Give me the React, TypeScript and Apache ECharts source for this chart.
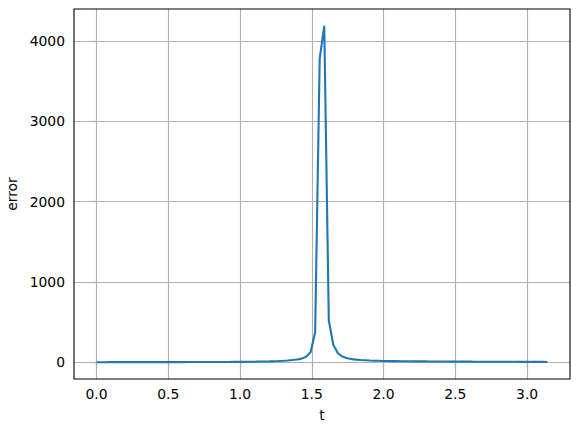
import React, { useEffect, useRef } from "react";
import * as echarts from "echarts";

// Sample grid: 100 evenly spaced points over [0, π]
const N = 100;
const tValues: number[] = Array.from({ length: N }, (_, i) => (i * Math.PI) / (N - 1));

// error values
const errorValues: number[] = [
  0.0, 0.3, 0.5, 0.6, 0.7, 0.8, 0.8, 0.9, 0.9, 1.0,
  1.0, 1.1, 1.1, 1.2, 1.3, 1.3, 1.4, 1.5, 1.6, 1.7,
  1.8, 1.9, 2.0, 2.2, 2.3, 2.5, 2.7, 3.0, 3.2, 3.5,
  3.9, 4.3, 4.8, 5.4, 6.1, 7.0, 8.1, 9.5, 11, 13,
  15, 18, 22, 27, 34, 45, 68, 125, 370, 3780,
  4190, 520, 215, 112, 70, 50, 39, 32, 27, 24,
  21, 19, 17.5, 16, 15, 14, 13.3, 12.6, 12, 11.4,
  10.9, 10.4, 10, 9.6, 9.2, 8.9, 8.6, 8.3, 8.0, 7.7,
  7.5, 7.2, 7.0, 6.7, 6.5, 6.3, 6.1, 5.9, 5.7, 5.5,
  5.3, 5.1, 4.9, 4.7, 4.5, 4.3, 4.1, 3.9, 3.7, 3.5,
];

const xTicks: number[] = [0, 0.5, 1.0, 1.5, 2.0, 2.5, 3.0];
const yTicks: number[] = [0, 1000, 2000, 3000, 4000];

const FONT = "DejaVu Sans";

export default function App() {
  const ref = useRef<HTMLDivElement>(null);
  useEffect(() => {
    if (!ref.current) return;
    const chart = echarts.init(ref.current, undefined, { renderer: "svg" });
    const data = tValues.map((t, i) => [t, errorValues[i]]);
    const gridLineStyle = { color: "#b0b0b0", width: 1.1, type: "solid" as const };
    chart.setOption({
      animation: false,
      backgroundColor: "#ffffff",
      grid: {
        left: 74,
        right: 10,
        top: 9,
        bottom: 53,
        outerBoundsMode: "none",
        containLabel: false,
        show: true,
        borderColor: "#000000",
        borderWidth: 1.1,
        backgroundColor: "transparent",
        z: 10,
      },
      xAxis: {
        type: "value",
        min: -0.157,
        max: 3.299,
        name: "t",
        nameLocation: "middle",
        nameGap: 29,
        nameTextStyle: { fontFamily: FONT, fontSize: 13.9, color: "#000" },
        axisLine: { show: false },
        axisTick: {
          show: true,
          length: 4.9,
          lineStyle: { color: "#000", width: 1.1 },
          customValues: xTicks,
        },
        axisLabel: {
          fontFamily: FONT,
          fontSize: 13.9,
          color: "#000",
          margin: 8,
          customValues: xTicks,
          formatter: (v: number) => v.toFixed(1),
        },
        splitLine: { show: false },
      },
      yAxis: {
        type: "value",
        min: -209,
        max: 4399,
        name: "error",
        nameLocation: "middle",
        nameGap: 47,
        nameTextStyle: { fontFamily: FONT, fontSize: 13.9, color: "#000" },
        axisLine: { show: false },
        axisTick: {
          show: true,
          length: 4.9,
          lineStyle: { color: "#000", width: 1.1 },
          customValues: yTicks,
        },
        axisLabel: {
          fontFamily: FONT,
          fontSize: 13.9,
          color: "#000",
          margin: 9,
          customValues: yTicks,
          formatter: (v: number) => String(v),
        },
        splitLine: { show: false },
      },
      series: [
        {
          type: "line",
          data: [],
          z: 1,
          silent: true,
          markLine: {
            silent: true,
            z: 1,
            symbol: ["none", "none"],
            label: { show: false },
            lineStyle: gridLineStyle,
            emphasis: { disabled: true },
            data: [
              ...xTicks.map((v) => ({ xAxis: v })),
              ...yTicks.map((v) => ({ yAxis: v })),
            ],
          },
        },
        {
          type: "line",
          data,
          z: 8,
          showSymbol: false,
          symbol: "none",
          lineStyle: { color: "#1f77b4", width: 2.1 },
          itemStyle: { color: "#1f77b4" },
        },
      ],
    });
    return () => chart.dispose();
  }, []);
  return (
    <div
      ref={ref}
      style={{ position: "fixed", left: 0, top: 0, width: 580, height: 432 }}
    />
  );
}
